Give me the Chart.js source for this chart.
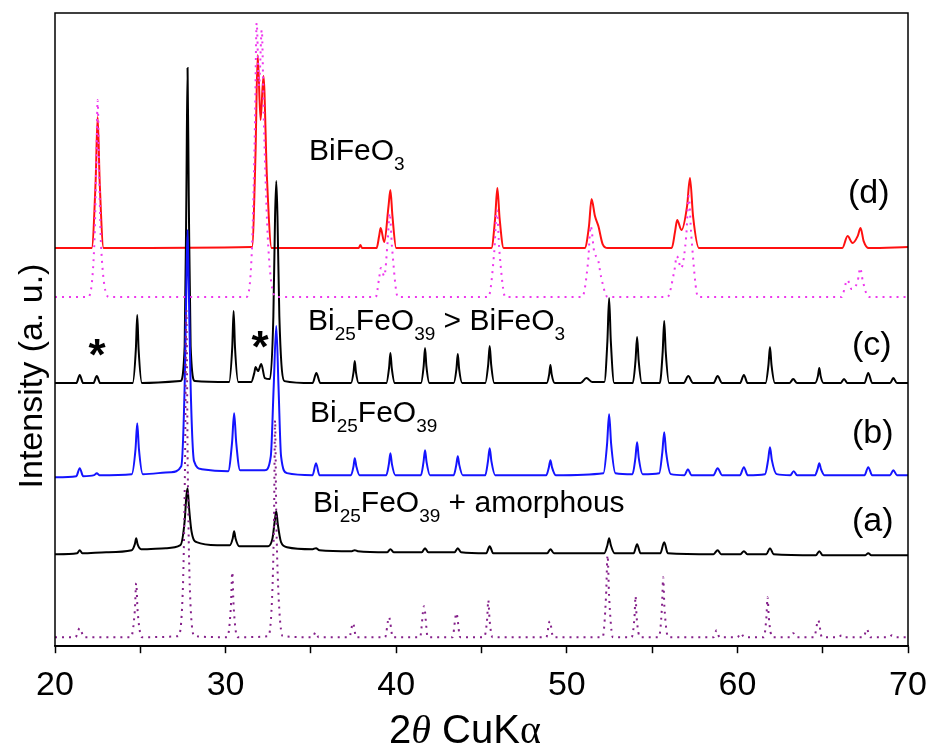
<!DOCTYPE html>
<html>
<head>
<meta charset="utf-8">
<script src="https://cdn.jsdelivr.net/npm/chart.js@4.4.1/dist/chart.umd.min.js"></script>
<style>
  html, body { margin: 0; padding: 0; background: #fff; }
  #wrap { width: 930px; height: 751px; }
</style>
</head>
<body>
<div id="wrap"><canvas id="xrdChart" width="930" height="751"></canvas></div>
<script>
// 2theta tick labels
const xTicks = [20, 30, 40, 50, 60, 70];

// each pattern: [2theta, intensity (stacked, a.u.)]
// (d) BiFeO3 sample - red
const patternD = [
  [20,398],[22.15,398],[22.38,464],[22.5,529],[22.62,464],[22.85,398],
  [31.55,399],[31.75,490],[31.88,591],[32.05,526],[32.22,570],[32.42,470],[32.7,398],
  [37.8,398],[37.9,401],[38.0,398],
  [38.85,398],[39.0,410],[39.09,418],[39.3,404],[39.55,440],[39.66,456],[39.78,430],[40.0,398],
  [45.58,398],[45.8,428],[45.93,458],[46.06,428],[46.3,398],
  [51.05,398],[51.3,420],[51.45,447],[51.65,430],[51.85,420],[52.1,402],[52.4,398],
  [56.15,398],[56.35,415],[56.47,426],[56.72,416],[57.05,440],[57.22,468],[57.4,430],[57.75,398],
  [66.15,398],[66.46,410],[66.75,403],[67.05,410],[67.22,418],[67.4,405],[67.7,398],
  [70,399]
];

// BiFeO3 reference pattern - magenta dotted
const refBiFeO3 = [
  [20,349],[21.9,349],[22.3,400],[22.42,480],[22.5,546],[22.58,480],[22.7,400],[23.2,349],
  [31.2,349],[31.55,400],[31.72,520],[31.82,623],[31.96,560],[32.12,616],[32.25,520],[32.5,400],[33.0,349],
  [38.8,349],[39.0,368],[39.1,378],[39.3,370],[39.5,405],[39.62,433],[39.75,400],[40.1,349],
  [45.4,349],[45.75,395],[45.9,436],[46.05,395],[46.4,349],
  [50.9,349],[51.25,385],[51.4,420],[51.6,395],[51.85,385],[52.0,370],[52.4,349],
  [55.9,349],[56.3,375],[56.45,390],[56.7,378],[57.0,410],[57.15,450],[57.3,410],[57.7,349],
  [66.1,349],[66.45,366],[66.7,357],[67.05,365],[67.2,378],[67.35,365],[67.7,349],
  [70,349]
];

// (c) Bi25FeO39 > BiFeO3 - black
const patternC = [
  [20,263],
  [21.25,263],[21.45,271],[21.65,263],
  [22.25,263],[22.45,270],[22.65,263],
  [24.55,263],[24.74,297],[24.82,331],[24.9,297],[25.1,263],
  [27.35,265],[27.6,300],[27.7,450],[27.77,578],[27.84,450],[27.95,300],[28.2,265],
  [30.2,264],[30.39,299],[30.47,335],[30.55,299],[30.75,264],
  [31.5,264],[31.68,273],[31.76,279],[31.9,275],[32.09,282],[32.3,268],[32.6,267],
  [32.8,330],[32.9,430],[32.97,465],[33.04,430],[33.15,330],[33.45,265],
  [35.1,263],[35.32,273],[35.55,263],
  [37.35,263],[37.5,274],[37.57,285],[37.64,274],[37.8,263],
  [39.42,263],[39.58,278],[39.66,293],[39.74,278],[39.92,263],
  [41.45,263],[41.61,280],[41.69,298],[41.77,280],[41.95,263],
  [43.37,263],[43.53,277],[43.61,292],[43.69,277],[43.87,263],
  [45.22,263],[45.39,281],[45.48,300],[45.57,281],[45.75,263],
  [48.82,263],[48.97,272],[49.04,281],[49.11,272],[49.3,263],
  [50.8,263],[51.15,268],[51.5,264],
  [52.2,264],[52.38,305],[52.48,348],[52.58,305],[52.78,263],
  [53.87,263],[54.03,286],[54.12,309],[54.21,286],[54.4,263],
  [55.45,263],[55.62,294],[55.71,325],[55.8,294],[56.0,263],
  [56.85,263],[57.12,270],[57.4,263],
  [58.6,263],[58.84,270],[59.1,263],
  [60.15,263],[60.38,271],[60.6,263],
  [61.65,263],[61.82,281],[61.91,299],[62.0,281],[62.2,263],
  [63.05,263],[63.27,267],[63.5,263],
  [64.55,263],[64.72,270],[64.8,278],[64.88,270],[65.05,263],
  [66.05,263],[66.25,267],[66.45,263],
  [67.45,263],[67.67,273],[67.9,263],
  [68.95,263],[69.14,268],[69.35,263],
  [70,263]
];

// (b) Bi25FeO39 - blue
const patternB = [
  [20,169],[21.25,170],[21.45,178],[21.65,170],[22.3,171],[22.45,173],[22.6,171],
  [24.5,172],[24.72,197],[24.82,223],[24.92,197],[25.15,172],
  [26.8,174],[27.4,180],[27.6,260],[27.7,360],[27.77,416],[27.84,360],[27.95,260],[28.15,185],[28.6,177],
  [30.15,175],[30.38,204],[30.5,233],[30.62,204],[30.85,176],
  [32.3,176],[32.65,190],[32.82,260],[32.97,320],[33.1,260],[33.25,190],[33.6,173],
  [35.1,171],[35.3,183],[35.5,171],
  [37.35,171],[37.5,180],[37.57,188],[37.66,180],[37.85,171],
  [39.42,171],[39.57,182],[39.66,193],[39.75,182],[39.95,171],
  [41.45,171],[41.6,184],[41.69,196],[41.78,184],[41.98,171],
  [43.37,171],[43.52,181],[43.61,190],[43.7,181],[43.9,171],
  [45.22,171],[45.38,185],[45.48,198],[45.58,185],[45.8,171],
  [48.8,171],[48.95,179],[49.04,186],[49.13,179],[49.35,171],
  [52.15,173],[52.36,202],[52.48,232],[52.6,202],[52.85,173],
  [53.85,172],[54.02,188],[54.12,204],[54.22,188],[54.45,172],
  [55.42,173],[55.6,194],[55.71,214],[55.82,194],[56.1,172],
  [56.9,171],[57.1,177],[57.3,171],
  [58.6,171],[58.84,178],[59.1,171],
  [60.15,171],[60.38,179],[60.6,171],
  [61.62,172],[61.8,186],[61.91,199],[62.02,186],[62.3,172],
  [63.1,171],[63.3,175],[63.5,171],
  [64.55,171],[64.7,177],[64.8,183],[64.9,177],[65.1,171],
  [67.45,171],[67.67,179],[67.9,171],
  [68.95,171],[69.14,176],[69.35,171],
  [70,171]
];

// (a) Bi25FeO39 + amorphous - black
const patternA = [
  [20,92],[21.3,93],[21.45,96],[21.6,93],[23,94],
  [24.5,96],[24.68,102],[24.76,108],[24.84,102],[25.05,97],
  [26.5,98],[27.35,101],[27.6,125],[27.7,150],[27.77,158],[27.85,140],[28.0,115],[28.3,104],[29.5,101],
  [30.25,101],[30.42,108],[30.5,115],[30.58,108],[30.8,100],
  [32.5,100],[32.75,108],[32.88,125],[32.97,135],[33.06,122],[33.25,104],[33.6,99],
  [35.1,97],[35.3,98],[35.5,96],
  [37.4,95],[37.57,96],[37.75,95],
  [39.48,94],[39.66,97],[39.85,94],
  [41.5,94],[41.69,98],[41.88,94],
  [43.42,94],[43.61,98],[43.8,94],
  [45.28,93],[45.48,100],[45.68,93],
  [48.85,93],[49.04,97],[49.25,93],
  [52.2,93],[52.38,101],[52.48,108],[52.58,101],[52.8,93],
  [53.92,93],[54.12,102],[54.32,93],
  [55.48,93],[55.71,104],[55.92,93],
  [58.6,92],[58.84,96],[59.05,92],
  [60.18,92],[60.38,95],[60.58,92],
  [61.7,92],[61.91,98],[62.12,92],
  [64.6,91],[64.8,95],[65.0,91],
  [67.5,91],[67.67,93],[67.85,91],
  [70,91]
];

// Bi25FeO39 reference pattern - purple dotted
const refBi25FeO39 = [
  [20,9],
  [21.2,9],[21.45,18],[21.7,9],
  [24.45,9],[24.68,36],[24.76,63],[24.84,36],[25.1,9],
  [27.2,10],[27.5,60],[27.62,180],[27.7,336],[27.78,180],[27.9,60],[28.2,10],
  [30.1,9],[30.31,40],[30.39,74],[30.47,40],[30.7,9],
  [32.5,10],[32.75,60],[32.84,130],[32.9,226],[32.97,130],[33.08,60],[33.35,10],
  [35.1,9],[35.28,14],[35.45,9],
  [37.25,9],[37.47,23],[37.65,9],
  [39.35,9],[39.58,29],[39.8,9],
  [41.4,9],[41.63,40],[41.85,9],
  [43.3,9],[43.53,33],[43.75,9],
  [45.15,9],[45.33,27],[45.4,46],[45.47,27],[45.65,9],
  [48.8,9],[49.0,25],[49.2,9],
  [52.1,9],[52.3,50],[52.39,91],[52.48,50],[52.7,9],
  [53.8,9],[53.97,30],[54.03,50],[54.09,30],[54.3,9],
  [55.4,9],[55.58,40],[55.65,69],[55.72,40],[55.95,9],
  [58.6,9],[58.78,16],[58.95,9],
  [60.0,9],[60.2,13],[60.4,9],
  [61.55,9],[61.7,29],[61.77,49],[61.84,29],[62.05,9],
  [63.1,9],[63.27,13],[63.45,9],
  [64.5,9],[64.74,26],[64.95,9],
  [65.95,9],[66.1,11],[66.25,9],
  [67.4,9],[67.58,17],[67.8,9],
  [68.9,9],[69.06,11],[69.25,9],
  [70,9]
];

const toXY = pts => pts.map(p => ({x: p[0], y: p[1]}));

const SANS = '"Liberation Sans", Arial, sans-serif';
const SERIF = '"Liberation Serif", "Times New Roman", serif';
Chart.defaults.font.family = SANS;
Chart.defaults.color = '#000';

// draw a formula with subscripts, parts = [text, isSub]
function chem(ctx, parts, x, y) {
  let cx = x;
  parts.forEach(function(p) {
    ctx.font = p[1] ? '19px ' + SANS : '30px ' + SANS;
    ctx.fillText(p[0], cx, p[1] ? y + 10 : y);
    cx += ctx.measureText(p[0]).width;
  });
}

const decorPlugin = {
  id: 'decor',
  afterDraw(chart) {
    const ctx = chart.ctx;
    const a = chart.chartArea;
    ctx.save();
    // frame
    ctx.strokeStyle = '#000';
    ctx.lineWidth = 1.5;
    ctx.strokeRect(a.left, a.top, a.right - a.left, a.bottom - a.top);

    ctx.fillStyle = '#000';
    ctx.textAlign = 'left';
    ctx.textBaseline = 'alphabetic';
    chem(ctx, [['BiFeO',0],['3',1]], 309, 160);
    chem(ctx, [['Bi',0],['25',1],['FeO',0],['39',1],[' > BiFeO',0],['3',1]], 308, 330);
    chem(ctx, [['Bi',0],['25',1],['FeO',0],['39',1]], 310, 422);
    chem(ctx, [['Bi',0],['25',1],['FeO',0],['39',1],[' + amorphous',0]], 313, 512);

    ctx.font = '34px ' + SANS;
    ctx.fillText('(d)', 848, 203);
    ctx.fillText('(c)', 852, 355);
    ctx.fillText('(b)', 852, 443);
    ctx.fillText('(a)', 852, 531);

    ctx.font = 'bold 44px ' + SANS;
    ctx.textAlign = 'center';
    ctx.fillText('*', 97, 370);
    ctx.fillText('*', 260, 362);

    // y title
    ctx.save();
    ctx.translate(42, 376);
    ctx.rotate(-Math.PI / 2);
    ctx.font = '34px ' + SANS;
    ctx.textAlign = 'center';
    ctx.fillText('Intensity (a. u.)', 0, 0);
    ctx.restore();

    // x title: 2θ CuKα
    const parts = [['2', '40px ' + SANS], ['\u03b8', 'italic 40px ' + SERIF], [' CuK', '40px ' + SANS], ['\u03b1', '40px ' + SERIF]];
    let w = 0;
    parts.forEach(p => { ctx.font = p[1]; w += ctx.measureText(p[0]).width; });
    let cx = 465 - w / 2;
    ctx.textAlign = 'left';
    parts.forEach(p => { ctx.font = p[1]; ctx.fillText(p[0], cx, 743); cx += ctx.measureText(p[0]).width; });
    ctx.restore();
  }
};

function lineSet(pts, color, dotted, order) {
  return {
    data: toXY(pts),
    borderColor: color,
    borderWidth: 2,
    borderDash: dotted ? [2, 5] : [],
    pointRadius: 0,
    cubicInterpolationMode: 'monotone',
    fill: false,
    order: order
  };
}

new Chart(document.getElementById('xrdChart'), {
  type: 'line',
  data: {
    datasets: [
      lineSet(refBi25FeO39, '#85208a', true, 0),
      lineSet(refBiFeO3, '#ee38ee', true, 1),
      lineSet(patternB, '#1414ff', false, 2),
      lineSet(patternC, '#000000', false, 3),
      lineSet(patternD, '#ff1010', false, 4),
      lineSet(patternA, '#000000', false, 5)
    ]
  },
  options: {
    responsive: false,
    animation: false,
    events: [],
    layout: { padding: { left: 55, top: 13, right: 22, bottom: 33 } },
    plugins: { legend: { display: false }, tooltip: { enabled: false } },
    scales: {
      x: {
        type: 'linear',
        min: 20,
        max: 70,
        afterFit: s => { s.paddingLeft = 0; s.paddingRight = 0; },
        border: { display: true, color: '#000', width: 1.5 },
        grid: { drawOnChartArea: false, drawTicks: true, tickLength: 7, tickColor: '#000', tickWidth: 1.5 },
        ticks: {
          stepSize: 5,
          padding: 12,
          font: { size: 34 },
          color: '#000',
          maxRotation: 0,
          autoSkip: false,
          callback: v => xTicks.includes(v) ? String(v) : ''
        }
      },
      y: {
        display: false,
        min: 0,
        max: 633
      }
    }
  },
  plugins: [decorPlugin]
});
</script>
</body>
</html>
